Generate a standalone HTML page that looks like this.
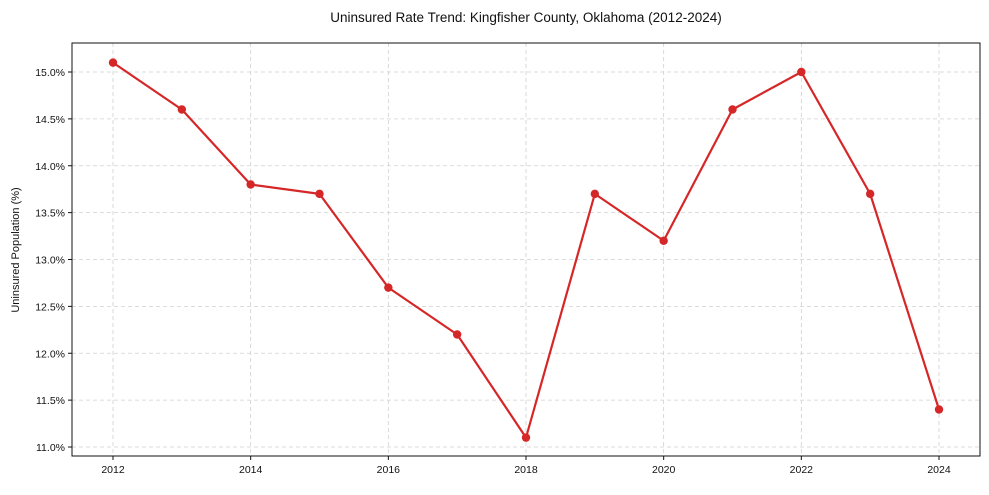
<!DOCTYPE html>
<html><head><meta charset="utf-8"><style>
body{margin:0;background:#fff;font-family:"Liberation Sans",Arial,sans-serif;}
svg text{font-family:"Liberation Sans",Arial,sans-serif;fill:#111;}
</style></head><body>
<svg id="chart" width="989" height="490" xmlns="http://www.w3.org/2000/svg">
<text x="526" y="22" text-anchor="middle" font-size="13.5">Uninsured Rate Trend: Kingfisher County, Oklahoma (2012-2024)</text>
<text transform="translate(19,250) rotate(-90)" text-anchor="middle" font-size="11">Uninsured Population (%)</text>
<g id="grid"></g><g id="axes"></g><g id="series"></g>
<rect x="72" y="43" width="908" height="413" fill="none" stroke="#111" stroke-width="1"/>
</svg>
<script>
const years=[2012,2013,2014,2015,2016,2017,2018,2019,2020,2021,2022,2023,2024];
const rates=[15.1,14.6,13.8,13.7,12.7,12.2,11.1,13.7,13.2,14.6,15.0,13.7,11.4];
const yTicks=[11.0,11.5,12.0,12.5,13.0,13.5,14.0,14.5,15.0];
const xTicks=[2012,2014,2016,2018,2020,2022,2024];
const NS="http://www.w3.org/2000/svg";
const L=72,R=980,T=43,B=456;
const xs=y=>113+(y-2012)*(939-113)/12;
const ys=v=>447-(v-11)*(447-72)/4;
function mk(tag,attrs,parent){const e=document.createElementNS(NS,tag);for(const k in attrs)e.setAttribute(k,attrs[k]);parent.appendChild(e);return e;}
const grid=document.getElementById('grid'),axes=document.getElementById('axes'),series=document.getElementById('series');
yTicks.forEach(v=>{const y=ys(v);
const g=mk('line',{x1:L,x2:R,y1:y,y2:y,stroke:'#d0d0d0','stroke-dasharray':'4,3','stroke-width':0.8},grid);


mk('line',{x1:L-4,x2:L,y1:y,y2:y,stroke:'#111'},axes);
const t=mk('text',{x:L-7,y:y+4,'text-anchor':'end','font-size':10.5},axes);t.textContent=v.toFixed(1)+'%';

});
xTicks.forEach(v=>{const x=xs(v);
const g=mk('line',{x1:x,x2:x,y1:T,y2:B,stroke:'#d0d0d0','stroke-dasharray':'4,3','stroke-width':0.8},grid);


mk('line',{x1:x,x2:x,y1:B,y2:B+4,stroke:'#111'},axes);
const t=mk('text',{x:x,y:B+17,'text-anchor':'middle','font-size':10.5},axes);t.textContent=v;

});
const pl=mk('polyline',{points:years.map((y,i)=>xs(y)+','+ys(rates[i])).join(' '),fill:'none',stroke:'#d62728','stroke-width':2.2,'stroke-linejoin':'round'},series);


years.forEach((y,i)=>{const c=mk('circle',{cx:xs(y),cy:ys(rates[i]),r:4.2,fill:'#d62728'},series);

});
</script>
</body></html>
